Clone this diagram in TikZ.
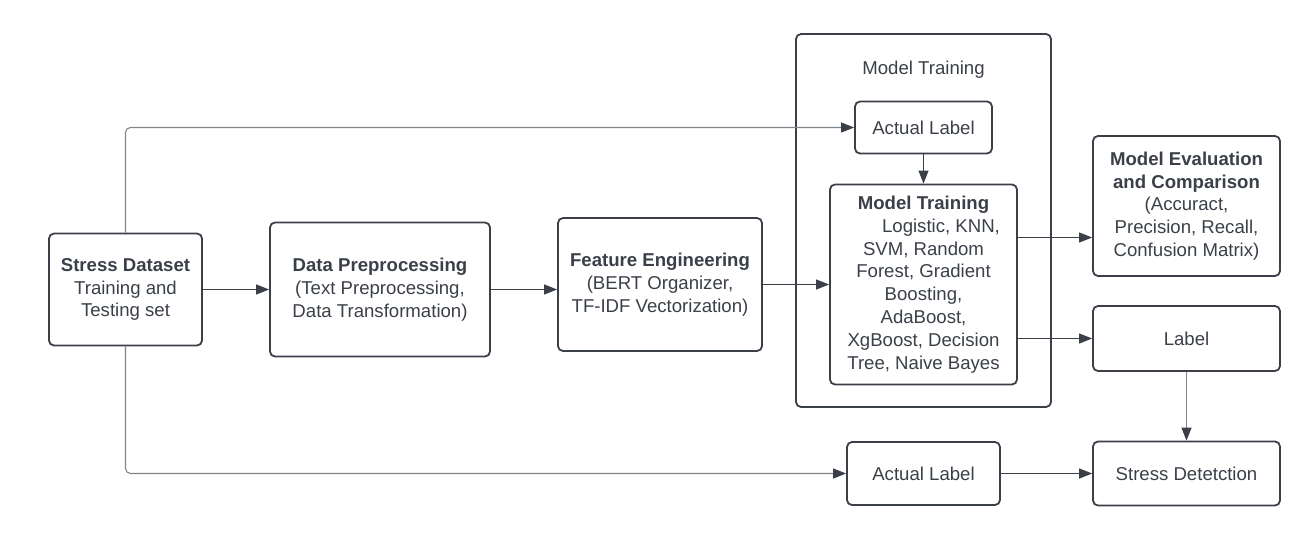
\documentclass[tikz,border=0pt]{standalone}
\usepackage{fontspec}
\setmainfont{Liberation Sans}
\usetikzlibrary{arrows.meta}
\definecolor{ink}{HTML}{3A3F48}
\definecolor{wire}{HTML}{80848B}

\begin{document}
\begin{tikzpicture}[x=1pt,y=-1pt, font=\fontsize{18.6}{22.8}\selectfont, text=ink]

      \useasboundingbox (0,0) rectangle (1310,538);

      \node[draw=ink, line width=1.8pt, rounded corners=5pt, minimum width=255pt, minimum height=373pt] (frame) at (923.5,220.5) {};
      \node (title) at (923.5,70) {Model Training};

      \begin{scope}[every node/.style={draw=ink, line width=1.8pt, rounded corners=5pt, align=center, inner sep=0pt}]
        \node[minimum width=153pt, minimum height=112pt] (dataset) at (125.5,289.5) {\textbf{Stress Dataset}\\Training and\\Testing set};
        \node[minimum width=220pt, minimum height=134pt] (prep) at (380,289.5) {\textbf{Data Preprocessing}\\(Text Preprocessing,\\Data Transformation)};
        \node[minimum width=204pt, minimum height=133pt] (feat) at (660,284.5) {\textbf{Feature Engineering}\\(BERT Organizer,\\TF-IDF Vectorization)};
        \node[minimum width=137pt, minimum height=52pt] (actual1) at (923.5,127.5) {Actual Label};
        \node[minimum width=187pt, minimum height=200pt] (train) at (923.5,284.5) {\textbf{Model Training}\\\hspace*{35pt}Logistic, KNN,\\SVM, Random\\Forest, Gradient\\Boosting,\\AdaBoost,\\XgBoost, Decision\\Tree, Naive Bayes};
        \node[minimum width=187pt, minimum height=140pt] (eval) at (1186.5,206) {\textbf{Model Evaluation}\\\textbf{and Comparison}\\(Accuract,\\Precision, Recall,\\Confusion Matrix)};
        \node[minimum width=187pt, minimum height=65pt] (label) at (1186.5,338.5) {Label};
        \node[minimum width=187pt, minimum height=64pt] (detect) at (1186.5,473.5) {Stress Detetction};
        \node[minimum width=153pt, minimum height=63pt] (actual2) at (923.5,473.5) {Actual Label};
      \end{scope}

      \coordinate (toeval) at ([yshift=-31.5pt]eval.west);

      \begin{scope}[every edge/.style={draw=ink, line width=1.1pt, -{Triangle[length=13pt,width=10pt,color=ink]}}]
        \path (dataset) edge (prep);
        \path (prep.east) edge (feat.west |- prep.east);
        \path (feat) edge (train);
        \path (actual1) edge (train);
        \path (train.east |- toeval) edge (toeval);
        \path (train.east |- label) edge (label);
        \path (label) edge[draw=wire] (detect);
        \path (actual2) edge (detect);
        \path (dataset.north) edge[draw=wire, rounded corners=5pt, to path={|- (\tikztotarget)}] (actual1);
        \path (dataset.south) edge[draw=wire, rounded corners=5pt, to path={|- (\tikztotarget)}] (actual2);
      \end{scope}

    \end{tikzpicture}
\end{document}
